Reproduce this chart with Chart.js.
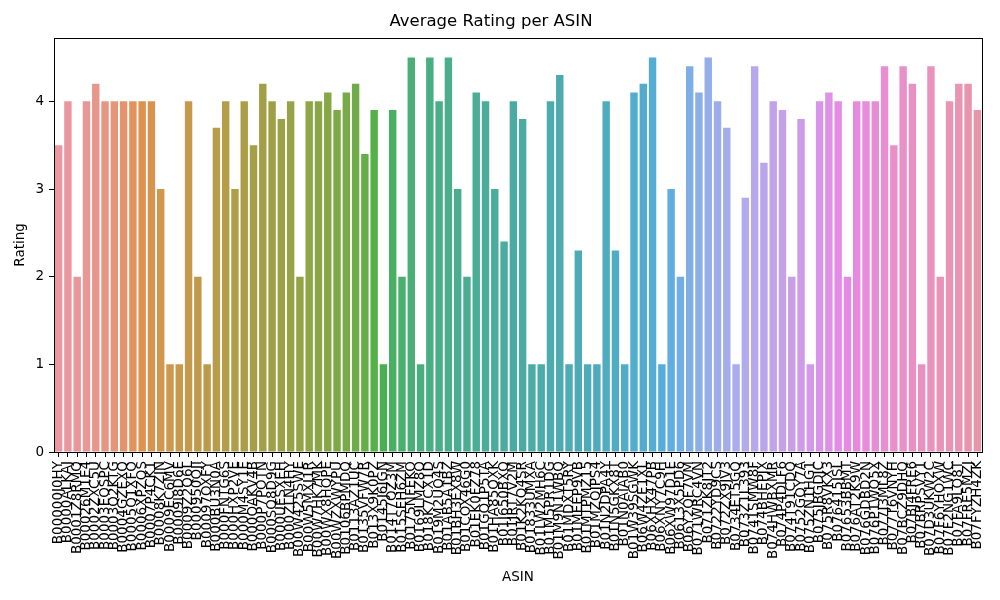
<!DOCTYPE html>
<html>
<head>
<meta charset="utf-8">
<script src="https://cdn.jsdelivr.net/npm/chart.js@4"></script>
<style>
  body { margin: 0; background: #fff; }
  #wrap { width: 1000px; height: 600px; }
</style>
</head>
<body>
<div id="wrap"><canvas id="myChart"></canvas></div>
<script>
const asins = [
  "B00000J0HY", "B0000ALKAJ", "B0001Z8RMQ", "B00026M1E4", "B0002ZXC5U",
  "B0003EQSPC", "B0003Q2KTG", "B0004GZEXQ", "B0005Q1XFO", "B0006XPZQS",
  "B0007P4CK1", "B0008K7ZJN", "B0009EC6MV", "B0009I8D6E", "B0009Z2Q6L",
  "B000950OJI", "B00097OXFY", "B000BU3N0A", "B000FNTG6S", "B000HXP2VE",
  "B000M4SY1E", "B000OAKV4B", "B000P7POTN", "B000SQ8D9G", "B000UESXEH",
  "B000ZLN4HY", "B00W425SWE", "B00W5MXJ1R", "B00W7HK7MK", "B00WX8HQPE",
  "B00WZXWYPU", "B0106BPMDQ", "B0113AZ1UC", "B0135VFW7R", "B013X9K0PZ",
  "B0145J6JGN", "B014T7QZ3M", "B015SEH6ZM", "B0175NFEKO", "B0169LMZ8Q",
  "B018K7CX1D", "B019M2UQ4S", "B01AB5A1BZ", "B01BH3EX8W", "B01COX46G0",
  "B01EK0FZ78", "B01GQ1P5TA", "B01HA85QXK", "B01J650BXQ", "B01JRT7V2M",
  "B01K2KQ4SR", "B01833UMXA", "B01LW2MH6C", "B01M5PR1DG", "B01M9N1WBQ",
  "B01MDXT5RY", "B01MEEP9VB", "B01MTPMZ15", "B01MZQJPS4", "B01N2DPA4Y",
  "B01N5GKX8T", "B01N0AIAB0", "B01W39SGWK", "B06W4ZE1XL", "B06XHX47PB",
  "B06XNY7C9H", "B06XW97D1E", "B0613X5PD6", "B06Y2QF7VM", "B071WRC4VN",
  "B071ZK8JT2", "B0722YD9CS", "B072ZX9JV3", "B0734ET5GQ", "B073Z1L393",
  "B0741SMW8F", "B074BHEPJX", "B074HWBXMR", "B074P4DLF6", "B074T91CDQ",
  "B0752GQY7A", "B075ZN1HG1", "B075JBGDJC", "B075R8VKX3", "B076415JSL",
  "B07653BBMT", "B076AT2K9W", "B076GDBD2N", "B076P1WQ5X", "B077J3ML8Z",
  "B077T6VNYH", "B07BCZ9DHQ", "B07BJ4FRE6", "B07BRPSVY1", "B07D3UKW2C",
  "B07F6YHOXW", "B07F2NG1WC", "B07FA9LQ8T", "B07FRE5MZJ", "B07FYZH4ZK"
];

const avgRating = [
  3.5, 4, 2, 4, 4.2, 4, 4, 4, 4, 4,
  4, 3, 1, 1, 4, 2, 1, 3.7, 4, 3,
  4, 3.5, 4.2, 4, 3.8, 4, 2, 4, 4, 4.1,
  3.9, 4.1, 4.2, 3.4, 3.9, 1, 3.9, 2, 4.5, 1,
  4.5, 4, 4.5, 3, 2, 4.1, 4, 3, 2.4, 4,
  3.8, 1, 1, 4, 4.3, 1, 2.3, 1, 1, 4,
  2.3, 1, 4.1, 4.2, 4.5, 1, 3, 2, 4.4, 4.1,
  4.5, 4, 3.7, 1, 2.9, 4.4, 3.3, 4, 3.9, 2,
  3.8, 1, 4, 4.1, 4, 2, 4, 4, 4, 4.4,
  3.5, 4.4, 4.2, 1, 4.4, 2, 4, 4.2, 4.2, 3.9
];

const yTicks = [0, 1, 2, 3, 4];

// husl palette as seaborn builds it for many categories (l=.7), then desaturated to .75
const M = [
  [3.2406, -1.5372, -0.4986],
  [-0.9689, 1.8758, 0.0415],
  [0.0557, -0.2040, 1.0570]
];
const refU = 0.19784, refV = 0.46834;
const labK = 903.3, labE = 0.008856;

function maxChroma(L, H) {
  const hrad = H * Math.PI / 180;
  const sinH = Math.sin(hrad), cosH = Math.cos(hrad);
  const sub1 = Math.pow(L + 16, 3) / 1560896;
  const sub2 = sub1 > labE ? sub1 : L / labK;
  let result = Infinity;
  for (const [m1, m2, m3] of M) {
    const top = (0.99915 * m1 + 1.05122 * m2 + 1.14460 * m3) * sub2;
    const rbottom = 0.86330 * m3 - 0.17266 * m2;
    const lbottom = 0.12949 * m3 - 0.38848 * m1;
    const bottom = (rbottom * sinH + lbottom * cosH) * sub2;
    for (const t of [0, 1]) {
      const C = L * (top - 1.05122 * t) / (bottom + 0.17266 * sinH * t);
      if (C > 0 && C < result) result = C;
    }
  }
  return result;
}

function fromLinear(c) {
  return c <= 0.0031308 ? 12.92 * c : 1.055 * Math.pow(c, 1 / 2.4) - 0.055;
}

function huslToRgb(h, s, l) {
  const C = maxChroma(l, h) / 100 * s;
  const hrad = h * Math.PI / 180;
  const U = C * Math.cos(hrad), V = C * Math.sin(hrad);
  const t = (l + 16) / 116;
  const Y = Math.pow(t, 3) > labE ? Math.pow(t, 3) : (116 * t - 16) / labK;
  const varU = U / (13 * l) + refU;
  const varV = V / (13 * l) + refV;
  const X = 0 - (9 * Y * varU) / ((varU - 4) * varV - varU * varV);
  const Z = (9 * Y - 15 * varV * Y - varV * X) / (3 * varV);
  return M.map(r => Math.min(1, Math.max(0, fromLinear(r[0] * X + r[1] * Y + r[2] * Z))));
}

function desaturate([r, g, b], prop) {
  // colorsys rgb_to_hls / hls_to_rgb
  const maxc = Math.max(r, g, b), minc = Math.min(r, g, b);
  const l = (maxc + minc) / 2;
  if (maxc === minc) return [r, g, b];
  let s = l <= 0.5 ? (maxc - minc) / (maxc + minc) : (maxc - minc) / (2 - maxc - minc);
  const rc = (maxc - r) / (maxc - minc), gc = (maxc - g) / (maxc - minc), bc = (maxc - b) / (maxc - minc);
  let h;
  if (r === maxc) h = bc - gc;
  else if (g === maxc) h = 2 + rc - bc;
  else h = 4 + gc - rc;
  h = ((h / 6) % 1 + 1) % 1;
  s *= prop;
  const m2 = l <= 0.5 ? l * (1 + s) : l + s - l * s;
  const m1 = 2 * l - m2;
  const v = hue => {
    hue = ((hue % 1) + 1) % 1;
    if (hue < 1 / 6) return m1 + (m2 - m1) * hue * 6;
    if (hue < 0.5) return m2;
    if (hue < 2 / 3) return m1 + (m2 - m1) * (2 / 3 - hue) * 6;
    return m1;
  };
  return [v(h + 1 / 3), v(h), v(h - 1 / 3)];
}

function barColors(n) {
  const out = [];
  for (let i = 0; i < n; i++) {
    const h = ((i / n + 0.01) % 1) * 359;
    const rgb = desaturate(huslToRgb(h, 0.9 * 99, 0.7 * 99), 0.75);
    out.push("rgb(" + rgb.map(c => Math.round(c * 255)).join(",") + ")");
  }
  return out;
}

const font = "DejaVu Sans";

const frame = {
  id: "frame",
  afterDraw(chart) {
    const { ctx, chartArea: a } = chart;
    ctx.save();
    ctx.strokeStyle = "#000";
    ctx.lineWidth = 1;
    ctx.strokeRect(Math.round(a.left) + 0.5, Math.round(a.top) + 0.5,
      Math.round(a.right - a.left), Math.round(a.bottom - a.top));
    ctx.restore();
  }
};

new Chart(document.getElementById("myChart"), {
  type: "bar",
  data: {
    labels: asins,
    datasets: [{
      label: "Rating",
      data: avgRating,
      backgroundColor: barColors(asins.length),
      borderWidth: 0,
      categoryPercentage: 1,
      barPercentage: 0.8
    }]
  },
  options: {
    responsive: true,
    maintainAspectRatio: false,
    devicePixelRatio: 1,
    animation: false,
    layout: { padding: { left: 0, right: 18, top: 0, bottom: 0 } },
    plugins: {
      legend: { display: false },
      tooltip: { enabled: false },
      title: {
        display: true,
        text: "Average Rating per ASIN",
        color: "#000",
        font: { family: font, size: 16.5, weight: "normal" },
        padding: { top: 12, bottom: 6 }
      }
    },
    scales: {
      x: {
        afterFit: s => { s.height = 148; },
        grid: { display: true, drawOnChartArea: false, offset: false, tickLength: 5, color: "#000" },
        border: { display: false },
        ticks: {
          autoSkip: false, maxRotation: 90, minRotation: 90, padding: 4,
          color: "#000", font: { family: font, size: 13.5 }
        },
        title: {
          display: true, text: "ASIN", color: "#000",
          font: { family: font, size: 13.5 }, padding: { top: 14, bottom: 14 }
        }
      },
      y: {
        min: 0,
        max: 4.725,
        afterFit: s => { s.width = 54; },
        afterBuildTicks: s => { s.ticks = yTicks.map(v => ({ value: v })); },
        grid: { display: true, drawOnChartArea: false, tickLength: 5, color: "#000" },
        border: { display: false },
        ticks: { padding: 5, color: "#000", font: { family: font, size: 13.5 } },
        title: {
          display: true, text: "Rating", color: "#000",
          font: { family: font, size: 13.5 }, padding: { top: 12, bottom: 12 }
        }
      }
    }
  },
  plugins: [frame]
});
</script>
</body>
</html>
